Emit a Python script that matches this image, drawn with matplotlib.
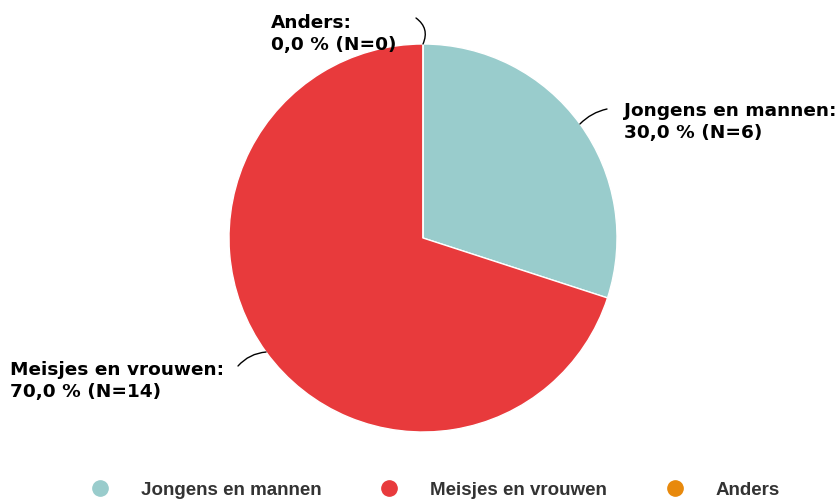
import matplotlib
matplotlib.use('Agg')

import numpy as np
import matplotlib.pyplot as plt
from matplotlib.lines import Line2D

categories = ['Jongens en mannen', 'Meisjes en vrouwen', 'Anders']
counts = [6, 14, 0]
colors = ['#99cccc', '#e83a3c', '#e8890c']

W, H = 838, 499
fig = plt.figure(figsize=(W / 100, H / 100), dpi=100)
ax = fig.add_axes([0, 0, 1, 1])

cx, cy, r = 423, 261, 194
total = sum(counts)
ax.pie(counts, colors=colors, startangle=90, counterclock=False,
       center=(cx, cy), radius=r, frame=True,
       wedgeprops=dict(edgecolor='white', linewidth=1))
ax.set_xlim(0, W)
ax.set_ylim(0, H)
ax.set_aspect('equal')
ax.axis('off')

# label placement: (text x, text y, connector end x, end y, rad)
label_pos = [(624, 377, 607, 390, 0.15),
             (10, 118, 238, 133, -0.2),
             (271, 465, 416, 481, -0.4)]

start = 90
for cat, n, (tx, ty, ex, ey, rad) in zip(categories, counts, label_pos):
    frac = n / total
    mid = np.deg2rad(start - frac * 360 / 2)
    start -= frac * 360
    px, py = cx + r * np.cos(mid), cy + r * np.sin(mid)
    ax.annotate('', xy=(px, py), xytext=(ex, ey),
                arrowprops=dict(arrowstyle='-', color='black', lw=1,
                                connectionstyle='arc3,rad=%s' % rad,
                                shrinkA=0, shrinkB=0))
    pct = ('%.1f' % (frac * 100)).replace('.', ',')
    ax.text(tx, ty, '%s:\n%s %% (N=%d)' % (cat, pct, n), ha='left', va='center',
            fontsize=13.3, fontweight='bold', color='black',
            family='DejaVu Sans', linespacing=1.3)

handles = [Line2D([], [], marker='o', linestyle='', markersize=11,
                  markerfacecolor=c, markeredgecolor=c) for c in colors]
leg = fig.legend(handles, categories, loc='center left', ncol=3,
                 bbox_to_anchor=(90.5 / W, 9 / H), frameon=False,
                 borderpad=0, borderaxespad=0,
                 handlelength=1, handletextpad=1.69, columnspacing=3.1,
                 prop=dict(family='Liberation Sans', weight='bold', size=13.5))
for t in leg.get_texts():
    t.set_color('#333333')

plt.savefig('out.png', dpi=100)
plt.close(fig)
